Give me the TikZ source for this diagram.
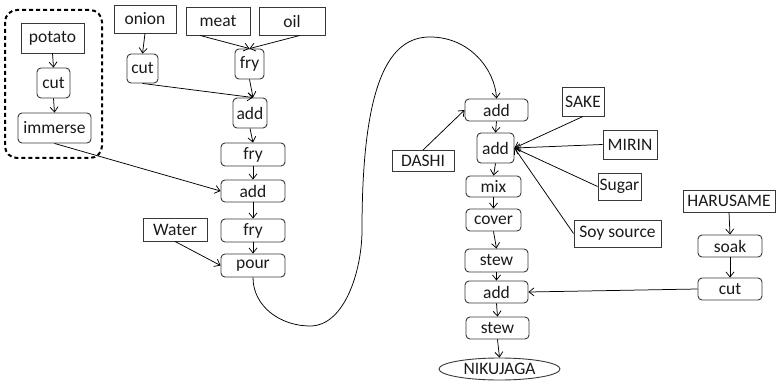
\documentclass[tikz,border=0pt]{standalone}
\usepackage{fontspec}
\setmainfont{Carlito}
\usetikzlibrary{arrows.meta,shapes.geometric}
\definecolor{bord}{HTML}{383838}
\definecolor{txt}{HTML}{1A1A1A}
\begin{document}
\begin{tikzpicture}[x=1pt,y=-1pt,
  every node/.style={inner sep=0pt,font=\fontsize{17.5}{19}\selectfont,text=txt},
  ing/.style={draw=bord,line width=0.9pt,rectangle},
  act/.style={draw=bord,line width=0.9pt,rectangle,rounded corners=4pt},
  res/.style={draw=bord,line width=0.9pt,ellipse},
  sz/.style 2 args={minimum width=#1pt,minimum height=#2pt},
  arr/.style={line width=0.75pt,-{Straight Barb[length=5pt,width=8pt]}},
  grp/.style={draw=black,line width=2pt,dash pattern=on 4pt off 3pt,rounded corners=12pt}]
\useasboundingbox (0,0) rectangle (776,382);
% left group
\node[ing,sz={63}{30}] (potato) at (52.5,38) {potato};
\node[act,sz={33}{30}] (cutA) at (53.5,83) {cut};
\node[act,sz={73}{30}] (immerse) at (54.5,128) {immerse};
\draw[grp] (5,10) rectangle (102,158);
% middle column
\node[ing,sz={62}{28}] (onion) at (145,19) {onion};
\node[act,sz={31}{29}] (cutB) at (142.5,68.5) {cut};
\node[ing,sz={64}{28}] (meat) at (218,21) {meat};
\node[ing,sz={66}{28}] (oil) at (292,21) {oil};
\node[act,sz={29}{30}] (fryA) at (249.5,64) {fry};
\node[act,sz={34}{30}] (addA) at (250,113) {add};
\node[act,sz={64}{23}] (fryB) at (253,154.5) {fry};
\node[act,sz={64}{22}] (addB) at (253,191) {add};
\node[act,sz={64}{23}] (fryC) at (253,230.5) {fry};
\node[act,sz={64}{23}] (pour) at (253,265.5) {pour};
\node[ing,sz={64}{23}] (water) at (175,229.5) {Water};
% right column
\node[act,sz={63}{22}] (rA1) at (496.5,110) {add};
\node[act,sz={37}{30}] (rA2) at (495.5,148) {add};
\node[act,sz={55}{21}] (mix) at (493.5,186.5) {mix};
\node[act,sz={55}{22}] (cover) at (493.5,220) {cover};
\node[act,sz={63}{23}] (stew1) at (496.5,260.5) {stew};
\node[act,sz={63}{22}] (rA3) at (496.5,292) {add};
\node[act,sz={63}{22}] (stew2) at (497.5,328) {stew};
\node[res,sz={121}{22}] (niku) at (499.5,369) {NIKUJAGA};
\node[ing,sz={62}{21}] (dashi) at (423,161) {DASHI};
\node[ing,sz={42}{29}] (sake) at (583,101.5) {SAKE};
\node[ing,sz={54}{29}] (mirin) at (630,144.5) {MIRIN};
\node[ing,sz={43}{27}] (sugar) at (619.5,186.5) {Sugar};
\node[ing,sz={87}{27}] (soy) at (617.5,233.5) {Soy source};
\node[ing,sz={92}{22}] (haru) at (729,201) {HARUSAME};
\node[act,sz={64}{22}] (soak) at (730,246) {soak};
\node[act,sz={64}{22}] (cutR) at (730,289) {cut};
% curve waypoints
\coordinate (c1) at (310,326);
\coordinate (c2) at (362,230);
\coordinate (c3) at (430,37);
% edges left
\draw[arr] (potato.south) -- (cutA.north);
\draw[arr] (cutA.south) -- (immerse.north);
\draw[arr] (immerse.south) -- (addB.west);
\draw[arr] (onion.south) -- (cutB.north);
\draw[arr] ([xshift=-18pt]meat.south) -- (fryA.north);
\draw[arr] ([xshift=8pt]oil.south) -- (fryA.north);
\draw[arr] (cutB.south) -- ([xshift=3pt]addA.north);
\draw[arr] (fryA.south) -- ([xshift=3pt]addA.north);
\draw[arr] (addA.south) -- (fryB.north);
\draw[arr] (fryB.south) -- (addB.north);
\draw[arr] (addB.south) -- (fryC.north);
\draw[arr] (fryC.south) -- (pour.north);
\draw[arr] (water.south) -- (pour.west);
\draw[arr] (pour.south) to[out=-90,in=180] (c1) .. controls (345,326) and (362,270) .. (c2)
  .. controls (362,80) and (390,37) .. (c3) .. controls (470,37) and (495,70) .. (rA1.north);
% edges right
\draw[arr] (dashi.north) -- (rA1.west);
\draw[arr] (rA1.south) -- (rA2.north);
\draw[arr] (sake.south) -- (rA2.east);
\draw[arr] (mirin.west) -- (rA2.east);
\draw[arr] (sugar.west) -- (rA2.east);
\draw[arr] (soy.west) -- (rA2.east);
\draw[arr] (rA2.south) -- (mix.north);
\draw[arr] (mix.south) -- (cover.north);
\draw[arr] (cover.south) -- (stew1.north);
\draw[arr] (stew1.south) -- (rA3.north);
\draw[arr] (rA3.south) -- (stew2.north);
\draw[arr] (stew2.south) -- (niku.north);
\draw[arr] (haru.south) -- (soak.north);
\draw[arr] (soak.south) -- (cutR.north);
\draw[arr] (cutR.west) -- (rA3.east);
\end{tikzpicture}
\end{document}
